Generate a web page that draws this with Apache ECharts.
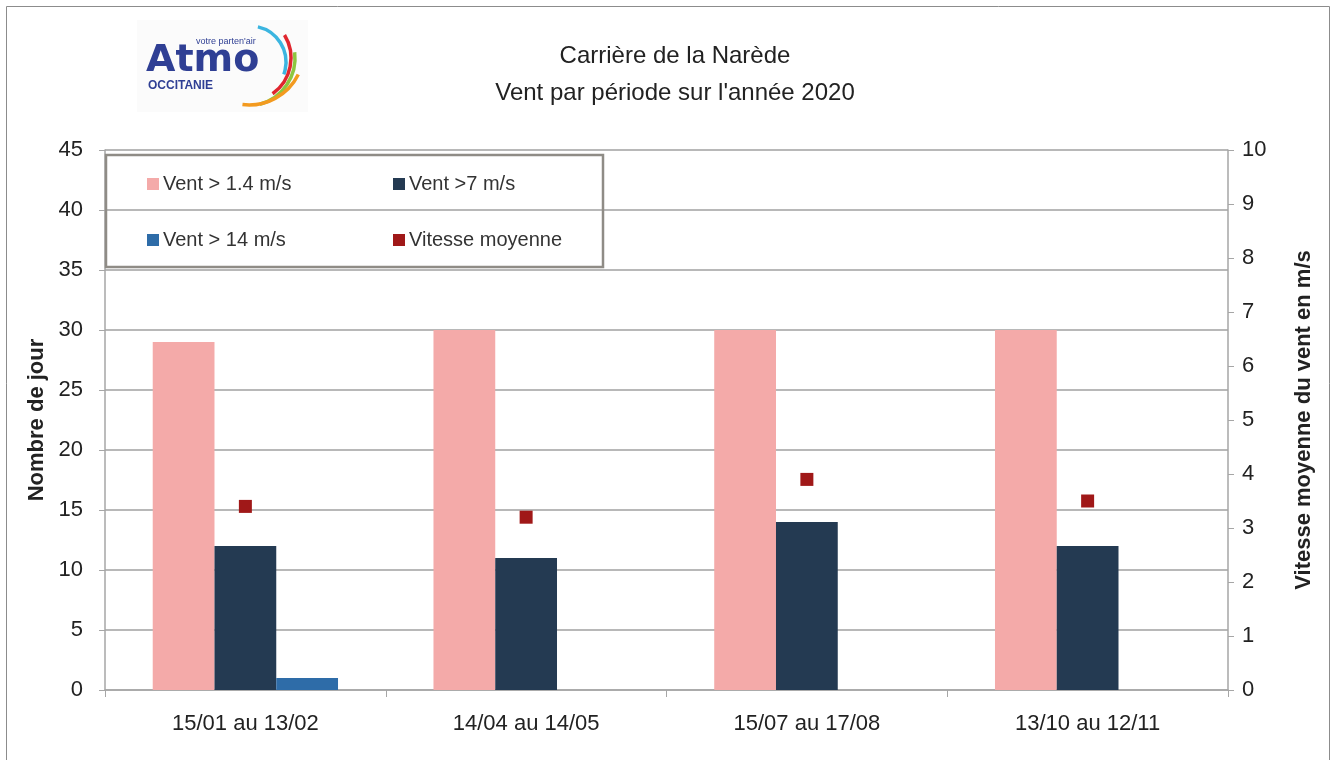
<!DOCTYPE html>
<html><head><meta charset="utf-8">
<script src="https://cdn.jsdelivr.net/npm/echarts@6/dist/echarts.min.js"></script>
<style>html,body{margin:0;padding:0;background:#fff}#c{width:1337px;height:760px}</style>
</head><body><div id="c"></div>
<script>
const categories = ['15/01 au 13/02', '14/04 au 14/05', '15/07 au 17/08', '13/10 au 12/11'];
const vent14 = [29, 30, 30, 30];
const vent7 = [12, 11, 14, 12];
const vent14ms = [1, 0, 0, 0];
const vitesseMoyenne = [3.4, 3.2, 3.9, 3.5];
const leftTicks = [0, 45, 5];
const rightTicks = [0, 10, 1];

const F = 'Liberation Sans, Arial, sans-serif';
const FN = 'Liberation Sans Narrow, Liberation Sans, Arial, sans-serif';
const chart = echarts.init(document.getElementById('c'));
const lg = (name, left, top) => ({
  data: [name], left: left, top: top, itemWidth: 12, itemHeight: 12, itemGap: 0,
  textStyle: {fontFamily: F, fontSize: 20, color: '#333', padding: [0,0,0,-1]},
  icon: 'rect', selectedMode: false
});
chart.setOption({
  animation: false,
  title: {
    text: 'Carrière de la Narède\nVent par période sur l\'année 2020',
    left: 670, top: 33, textAlign: 'center',
    textStyle: {fontFamily: F, fontSize: 24, fontWeight: 'normal', color: '#222', lineHeight: 37}
  },
  legend: [
    lg('Vent > 1.4 m/s', 142, 169),
    lg('Vent >7 m/s', 388, 169),
    lg('Vent > 14 m/s', 142, 225),
    lg('Vitesse moyenne', 388, 225)
  ],
  grid: {left: 105, right: 109, top: 150, bottom: 70},
  xAxis: {
    type: 'category', data: categories,
    axisLine: {lineStyle: {color: '#a6a6a6', width: 1.5}},
    axisTick: {show: true, length: 7, lineStyle: {color: '#a6a6a6'}},
    axisLabel: {fontFamily: F, fontSize: 22, color: '#222', margin: 23}
  },
  yAxis: [
    {
      type: 'value', min: leftTicks[0], max: leftTicks[1], interval: leftTicks[2],
      name: 'Nombre de jour', nameLocation: 'middle', nameGap: 57, nameRotate: 90,
      nameTextStyle: {fontFamily: FN, fontSize: 22, fontWeight: 'bold', color: '#222'},
      axisLine: {show: true, lineStyle: {color: '#a6a6a6', width: 1.5}},
      axisTick: {show: true, length: 6, lineStyle: {color: '#a6a6a6'}},
      axisLabel: {fontFamily: F, fontSize: 22, color: '#222', margin: 22},
      splitLine: {lineStyle: {color: '#a0a0a0', width: 1.5}}
    },
    {
      type: 'value', min: rightTicks[0], max: rightTicks[1], interval: rightTicks[2],
      name: 'Vitesse moyenne du vent en m/s', nameLocation: 'middle', nameGap: 65, nameRotate: 90,
      nameTextStyle: {fontFamily: FN, fontSize: 22, fontWeight: 'bold', color: '#222'},
      axisLine: {show: true, lineStyle: {color: '#a6a6a6', width: 1.5}},
      axisTick: {show: true, length: 6, lineStyle: {color: '#a6a6a6'}},
      axisLabel: {fontFamily: F, fontSize: 22, color: '#222', margin: 14},
      splitLine: {show: false}
    }
  ],
  series: [
    {name: 'Vent > 1.4 m/s', type: 'bar', data: vent14, barGap: '0%', barCategoryGap: '34%',
     itemStyle: {color: '#f4aaa9'}},
    {name: 'Vent >7 m/s', type: 'bar', data: vent7, itemStyle: {color: '#243a52'}},
    {name: 'Vent > 14 m/s', type: 'bar', data: vent14ms, itemStyle: {color: '#2e6ca8'}},
    {name: 'Vitesse moyenne', type: 'scatter', yAxisIndex: 1, data: vitesseMoyenne,
     symbol: 'rect', symbolSize: 13, itemStyle: {color: '#a01818', opacity: 1}}
  ],
  graphic: [
    {type: 'rect', shape: {x: 6.5, y: 6.5, width: 1323, height: 760}, style: {fill: 'none', stroke: '#8c8c8c', lineWidth: 1}, silent: true},
    {type: 'rect', shape: {x: 106, y: 155, width: 497, height: 112}, style: {fill: 'none', stroke: '#8f8c86', lineWidth: 2.5}, silent: true, z: 100},
    {type: 'rect', shape: {x: 137, y: 20, width: 171, height: 92}, style: {fill: '#fbfbfb'}, silent: true, z: -1},
    {type: 'text', left: 146, top: 42, style: {text: 'Atmo', font: 'bold 38px DejaVu Sans, sans-serif', fill: '#2f3f94'}, z: 10},
    {type: 'text', left: 196, top: 37, style: {text: 'votre parten\'air', font: '9px ' + F, fill: '#2f3f94'}, z: 11},
    {type: 'text', left: 148, top: 80, style: {text: 'OCCITANIE', font: 'bold 12px ' + F, fill: '#2f3f94'}, z: 10},
    {type: 'arc', shape: {cx: 250, cy: 62, r: 36, startAngle: -1.35, endAngle: 0.35}, style: {stroke: '#3bb5e0', lineWidth: 3.5, fill: 'none'}, z: 10},
    {type: 'arc', shape: {cx: 247, cy: 58, r: 44, startAngle: -0.55, endAngle: 0.95}, style: {stroke: '#e0262e', lineWidth: 3.5, fill: 'none'}, z: 10},
    {type: 'arc', shape: {cx: 247, cy: 58, r: 48, startAngle: -0.12, endAngle: 1.3}, style: {stroke: '#8dc63f', lineWidth: 3.5, fill: 'none'}, z: 10},
    {type: 'arc', shape: {cx: 249, cy: 50, r: 55, startAngle: 0.46, endAngle: 1.69}, style: {stroke: '#f39a1f', lineWidth: 3.5, fill: 'none'}, z: 10}
  ]
});
</script></body></html>
